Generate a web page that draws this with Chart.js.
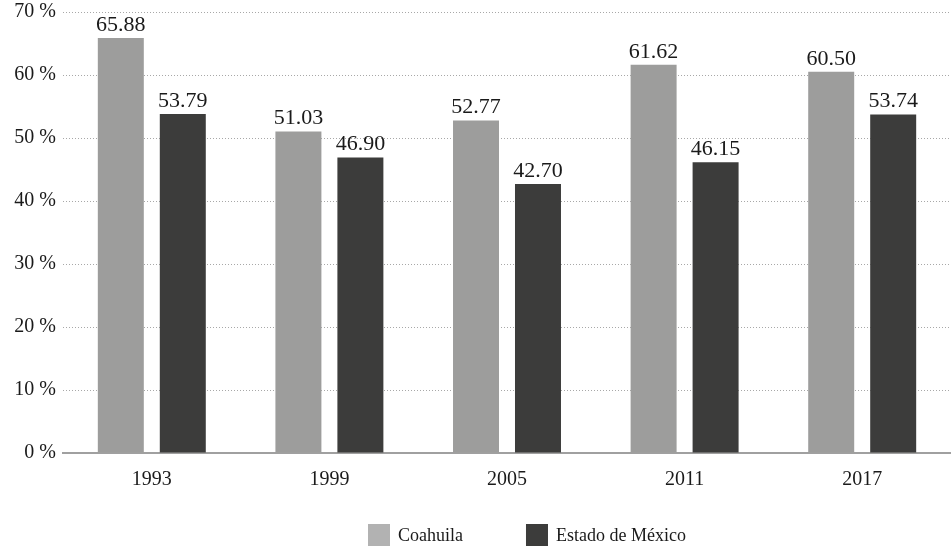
<!DOCTYPE html>
<html>
<head>
<meta charset="utf-8">
<script src="https://cdn.jsdelivr.net/npm/chart.js@4/dist/chart.umd.min.js"></script>
<style>
  html, body { margin: 0; padding: 0; background: #fff; }
  #wrap { width: 951px; height: 546px; position: relative; }
</style>
</head>
<body>
<div id="wrap"><canvas id="chart"></canvas></div>
<script>
const years = ['1993', '1999', '2005', '2011', '2017'];
const coahuila = [65.88, 51.03, 52.77, 61.62, 60.50];
const edomex = [53.79, 46.90, 42.70, 46.15, 53.74];
const yTicks = [0, 10, 20, 30, 40, 50, 60, 70];

const serif = "'Liberation Serif', 'DejaVu Serif', serif";
const legendColors = ['#b2b2b2', '#3c3c3b'];

// values drawn above each bar
const valueLabels = {
  id: 'valueLabels',
  afterDatasetsDraw(chart) {
    const ctx = chart.ctx;
    ctx.save();
    ctx.font = '22px ' + serif;
    ctx.fillStyle = '#1a1a1a';
    ctx.textAlign = 'center';
    ctx.textBaseline = 'bottom';
    chart.data.datasets.forEach((ds, i) => {
      chart.getDatasetMeta(i).data.forEach((bar, j) => {
        ctx.fillText(ds.data[j].toFixed(2), bar.x, bar.y - 2);
      });
    });
    ctx.restore();
  }
};

// legend at the bottom, spaced wider than the built-in one allows
const bottomLegend = {
  id: 'bottomLegend',
  afterDraw(chart) {
    const ctx = chart.ctx;
    const box = 22, textGap = 8, itemGap = 63;
    ctx.save();
    ctx.font = '18px ' + serif;
    ctx.textBaseline = 'middle';
    const cx = (chart.chartArea.left + chart.chartArea.right) / 2;
    const cy = chart.height - 11;
    let x = cx - 139;
    chart.data.datasets.forEach((ds, i) => {
      ctx.fillStyle = legendColors[i];
      ctx.fillRect(x, cy - box / 2, box, box);
      ctx.fillStyle = '#1a1a1a';
      ctx.fillText(ds.label, x + box + textGap, cy + 1);
      x += box + textGap + ctx.measureText(ds.label).width + itemGap;
    });
    ctx.restore();
  }
};

const ctx = document.getElementById('chart').getContext('2d');
new Chart(ctx, {
  type: 'bar',
  data: {
    labels: years,
    datasets: [
      {
        label: 'Coahuila',
        data: coahuila,
        backgroundColor: '#9d9d9c',
        categoryPercentage: 0.698,
        barPercentage: 0.742
      },
      {
        label: 'Estado de México',
        data: edomex,
        backgroundColor: '#3c3c3b',
        categoryPercentage: 0.698,
        barPercentage: 0.742
      }
    ]
  },
  options: {
    responsive: true,
    maintainAspectRatio: false,
    animation: false,
    layout: { padding: { top: 12, right: 0, left: 0, bottom: 39 } },
    plugins: {
      legend: { display: false },
      tooltip: { enabled: false }
    },
    scales: {
      x: {
        grid: { display: false, drawTicks: false },
        border: { color: '#a0a0a0', width: 2 },
        ticks: {
          color: '#1a1a1a',
          padding: 15,
          font: { family: serif, size: 20 }
        }
      },
      y: {
        min: 0,
        max: 70,
        afterFit(scale) { scale.width = 63; },
        afterBuildTicks(scale) { scale.ticks = yTicks.map(v => ({ value: v })); },
        grid: {
          color: '#a8a8a8',
          lineWidth: 1,
          drawTicks: false
        },
        border: { display: false, dash: [1, 2] },
        ticks: {
          color: '#1a1a1a',
          padding: 7,
          font: { family: serif, size: 20, lineHeight: 0.4 },
          callback: v => v + ' %'
        }
      }
    }
  },
  plugins: [valueLabels, bottomLegend]
});
</script>
</body>
</html>
